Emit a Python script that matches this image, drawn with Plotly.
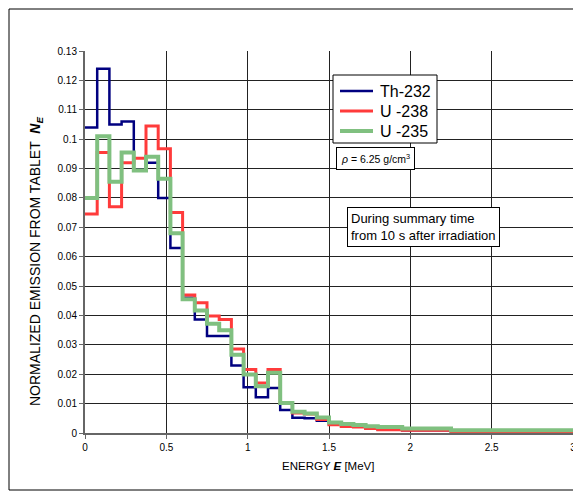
import plotly.graph_objects as go

# Bin edges (MeV): 0.075 MeV bins up to 2.25, then one wide bin to 3.0
bin_edges = [round(0.075 * i, 3) for i in range(31)] + [3.0]

th232 = [0.104, 0.124, 0.105, 0.106, 0.0895, 0.092, 0.080, 0.063, 0.046, 0.0386,
         0.033, 0.033, 0.023, 0.0156, 0.0122, 0.0153, 0.0078, 0.0052, 0.005, 0.0042,
         0.0030, 0.0024, 0.0021, 0.0016, 0.0012, 0.0012, 0.0009, 0.0009, 0.0009, 0.0009,
         0.0004]
u238 = [0.0745, 0.0955, 0.077, 0.092, 0.0935, 0.1045, 0.0967, 0.075, 0.047, 0.0443,
        0.0398, 0.0386, 0.0286, 0.0216, 0.017, 0.0216, 0.0102, 0.0068, 0.0065, 0.0046,
        0.0028, 0.0022, 0.0020, 0.0015, 0.0011, 0.0011, 0.0009, 0.0009, 0.0009, 0.0009,
        0.0004]
u235 = [0.080, 0.101, 0.0855, 0.0955, 0.0893, 0.094, 0.0865, 0.068, 0.0455, 0.0417,
        0.0372, 0.035, 0.0266, 0.0199, 0.0159, 0.0205, 0.0102, 0.0072, 0.0066, 0.0053,
        0.0036, 0.0031, 0.0027, 0.0023, 0.0020, 0.0020, 0.0015, 0.0015, 0.0015, 0.0015,
        0.0009]

series = [
    ("Th-232", th232, "#000080", 2.5),
    ("U -238", u238, "#FF3B3B", 3),
    ("U -235", u235, "#80C080", 4),
]

# The page body adds an 8 px margin, so the figure is drawn 8 px in from the window edge.
OFF = 8
W, H = 581 - OFF, 492 - OFF
L, R, T, B = 85 - OFF, 8, 51 - OFF, 59
PW, PH = W - L - R, H - T - B


def px(x):
    return (x - OFF - L) / PW


def py(y):
    return (H - B - (y - OFF)) / PH


fig = go.Figure()
for name, vals, color, w in series:
    xs = bin_edges[:len(vals)] + [bin_edges[len(vals)]]
    ys = vals + [vals[-1]]
    fig.add_trace(go.Scatter(x=xs, y=ys, mode="lines", name=name,
                             line=dict(color=color, width=w, shape="hv")))

fig.update_layout(
    width=W, height=H,
    margin=dict(l=L, r=R, t=T, b=B),
    paper_bgcolor="white", plot_bgcolor="white",
    font=dict(family="Liberation Sans, Arial, sans-serif", size=10, color="black"),
    showlegend=False,
)
axis_common = dict(showgrid=True, gridcolor="#222", gridwidth=1, showline=True,
                   linecolor="#666", linewidth=2, ticks="outside", ticklen=4,
                   tickcolor="#666", zeroline=False, automargin=False,
                   tickfont=dict(size=10))
fig.update_xaxes(range=[0, 3], dtick=0.5, tick0=0, **axis_common)
fig.update_yaxes(range=[0, 0.13], dtick=0.01, tick0=0, **axis_common)

# axis titles
fig.add_annotation(xref="paper", yref="paper", x=px(328), y=py(466),
                   text="ENERGY <b><i>E</i></b> [MeV]", showarrow=False,
                   xanchor="center", yanchor="middle", font=dict(size=11.5))
fig.add_annotation(xref="paper", yref="paper", x=px(36), y=py(262),
                   text="NORMALIZED EMISSION FROM TABLET  <b><i>N<sub>E</sub></i></b>",
                   showarrow=False, textangle=-90, xanchor="center", yanchor="middle",
                   font=dict(size=14))

# outer chart border
fig.add_shape(type="rect", xref="paper", yref="paper",
              x0=px(9), x1=px(578), y0=py(490), y1=py(9),
              line=dict(color="black", width=1), layer="below")

# legend (drawn manually to match the original box)
fig.add_shape(type="rect", xref="paper", yref="paper",
              x0=px(333), x1=px(437), y0=py(143), y1=py(75),
              line=dict(color="black", width=1), fillcolor="white")
leg_y = [91, 111, 131]
for (name, vals, color, w), yy in zip(series, leg_y):
    fig.add_shape(type="line", xref="paper", yref="paper",
                  x0=px(340), x1=px(373), y0=py(yy), y1=py(yy),
                  line=dict(color=color, width=w))
    fig.add_annotation(xref="paper", yref="paper", x=px(378), y=py(yy),
                       text=name, showarrow=False, xanchor="left", yanchor="middle",
                       font=dict(size=16))

fig.add_annotation(xref="paper", yref="paper", x=px(375), y=py(158),
                   text="<i>ρ</i> = 6.25 g/cm<sup>3</sup>", showarrow=False,
                   xanchor="center", yanchor="middle",
                   font=dict(size=10.5), bordercolor="black", borderwidth=1,
                   borderpad=4, bgcolor="white")
fig.add_annotation(xref="paper", yref="paper", x=px(423), y=py(227),
                   text="During summary time<br>from 10 s after irradiation",
                   showarrow=False, align="left", xanchor="center", yanchor="middle",
                   font=dict(size=13),
                   bordercolor="black", borderwidth=1, borderpad=3, bgcolor="white")

fig.write_html("out.html")
